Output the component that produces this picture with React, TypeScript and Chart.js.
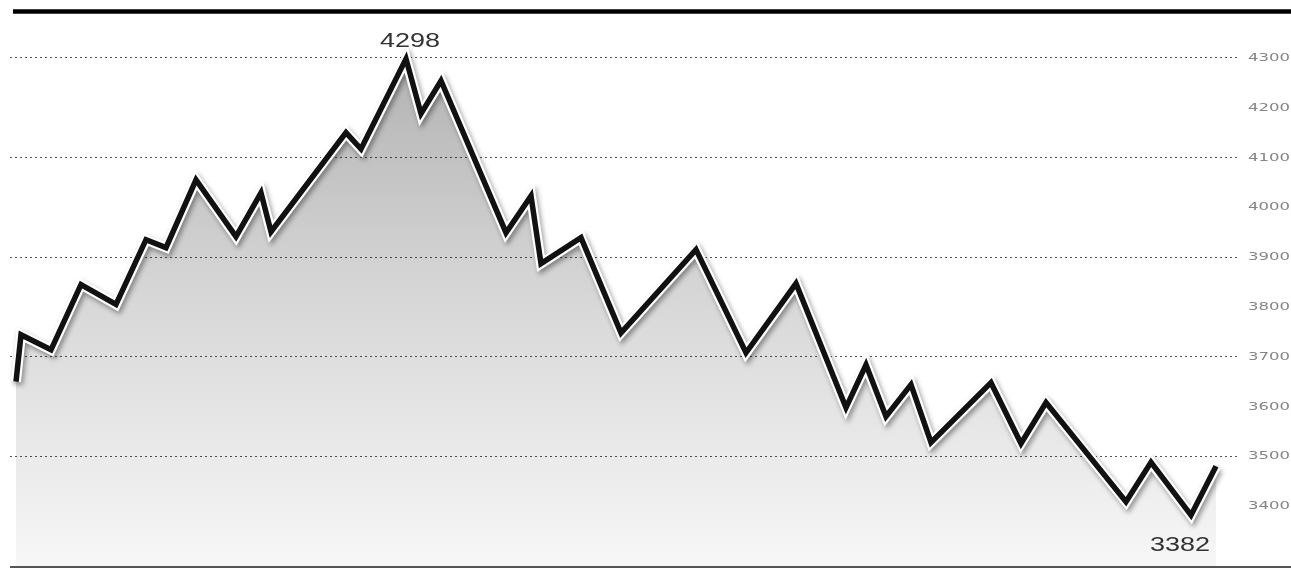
import React, { useEffect, useRef } from 'react';
import { Chart, registerables } from 'chart.js';

Chart.register(...registerables);

// trading-day index of each turning point
const days = [0, 1, 7, 13, 20, 26, 30, 36, 44, 49, 51, 66, 69, 78, 81, 85, 98, 103, 105, 113, 121, 136, 146, 156, 166, 170, 174, 179, 183, 195, 201, 206, 222, 227, 235, 240];
// index values
const values = [3650, 3744, 3714, 3845, 3805, 3935, 3919, 4055, 3941, 4029, 3951, 4150, 4117, 4298, 4188, 4254, 3949, 4023, 3887, 3939, 3748, 3915, 3708, 3847, 3598, 3684, 3580, 3644, 3528, 3648, 3526, 3608, 3409, 3488, 3382, 3480];
const yTicks = [4300, 4200, 4100, 4000, 3900, 3800, 3700, 3600, 3500, 3400];
const gridValues = [4300, 4100, 3900, 3700, 3500];

export default function App() {
  const ref = useRef<HTMLCanvasElement>(null);

  useEffect(() => {
    document.body.style.margin = '0';
    const canvas = ref.current;
    if (!canvas) return;
    const points = days.map((d, i) => ({ x: d, y: values[i] }));

    const drawStretched = (ctx: CanvasRenderingContext2D, text: string, x: number, y: number, sx: number) => {
      ctx.save();
      ctx.translate(x, y);
      ctx.scale(sx, 1);
      ctx.fillText(text, 0, 0);
      ctx.restore();
    };

    const decor = {
      id: 'decor',
      beforeDraw(chart: any) {
        const c = chart.ctx;
        c.save();
        c.fillStyle = '#ffffff';
        c.fillRect(0, 0, chart.width, chart.height);
        c.restore();
      },
      beforeDatasetDraw(chart: any, args: any) {
        if (args.index === 1) {
          const c = chart.ctx;
          c.save();
          c.shadowColor = 'rgba(0,0,0,0.38)';
          c.shadowBlur = 5;
          c.shadowOffsetX = 2;
          c.shadowOffsetY = 3;
        }
      },
      afterDatasetDraw(chart: any, args: any) {
        if (args.index === 1) chart.ctx.restore();
      },
      afterDraw(chart: any) {
        const c = chart.ctx;
        const xs = chart.scales.x;
        const ys = chart.scales.y;
        c.save();
        // top rule
        c.strokeStyle = '#000';
        c.lineWidth = 4.5;
        c.beginPath();
        c.moveTo(13, 11.5);
        c.lineTo(chart.width, 11.5);
        c.stroke();
        // bottom rule
        c.strokeStyle = '#555';
        c.lineWidth = 2;
        c.beginPath();
        c.moveTo(10, 567);
        c.lineTo(chart.width, 567);
        c.stroke();
        // y tick labels (wide face)
        c.fillStyle = '#858585';
        c.font = '10px "DejaVu Sans", sans-serif';
        c.textAlign = 'left';
        c.textBaseline = 'middle';
        ys.ticks.forEach((t: any) => {
          drawStretched(c, String(t.value), ys.left + 11, ys.getPixelForValue(t.value) + 0.5, 1.65);
        });
        // max / min labels
        let iMax = 0, iMin = 0;
        values.forEach((v, i) => {
          if (v > values[iMax]) iMax = i;
          if (v < values[iMin]) iMin = i;
        });
        c.fillStyle = '#333';
        c.font = '20px "Liberation Sans", Arial, sans-serif';
        c.textAlign = 'center';
        c.textBaseline = 'alphabetic';
        drawStretched(c, String(values[iMax]), xs.getPixelForValue(days[iMax]) + 4, ys.getPixelForValue(values[iMax]) - 12, 1.35);
        drawStretched(c, String(values[iMin]), xs.getPixelForValue(days[iMin]) - 11, ys.getPixelForValue(values[iMin]) + 36, 1.35);
        c.restore();
      },
    };

    const gradient = (ctx: any) => {
      const chart = ctx.chart;
      const area = chart.chartArea;
      if (!area) return 'rgba(0,0,0,0.15)';
      const g = chart.ctx.createLinearGradient(0, area.top, 0, area.bottom);
      g.addColorStop(0, 'rgba(0,0,0,0.33)');
      g.addColorStop(0.5, 'rgba(0,0,0,0.16)');
      g.addColorStop(1, 'rgba(0,0,0,0.03)');
      return g;
    };

    const chart = new Chart(canvas, {
      type: 'line',
      data: {
        datasets: [
          {
            data: points,
            borderWidth: 0,
            pointRadius: 0,
            fill: 'start',
            backgroundColor: gradient,
            tension: 0,
            order: 3,
          } as any,
          {
            data: points,
            borderColor: '#ffffff',
            borderWidth: 10,
            borderJoinStyle: 'miter',
            pointRadius: 0,
            fill: false,
            tension: 0,
            order: 2,
          },
          {
            data: points,
            borderColor: '#111111',
            borderWidth: 5.5,
            borderJoinStyle: 'miter',
            pointRadius: 0,
            fill: false,
            tension: 0,
            order: 1,
          },
        ],
      },
      options: {
        responsive: false,
        animation: false,
        layout: { padding: { left: 10, right: 0, top: 13, bottom: 4 } },
        plugins: { legend: { display: false }, tooltip: { enabled: false } },
        scales: {
          x: {
            type: 'linear',
            display: false,
            min: -1.2,
            max: 244.2,
          },
          y: {
            type: 'linear',
            position: 'right',
            min: 3280,
            max: 4390,
            afterBuildTicks: (scale: any) => {
              scale.ticks = yTicks.map((v) => ({ value: v }));
            },
            afterFit: (scale: any) => {
              scale.width = 54;
              scale.paddingTop = 0;
              scale.paddingBottom = 0;
            },
            grid: {
              drawTicks: false,
              lineWidth: 1,
              color: (c: any) => (c.tick && gridValues.includes(c.tick.value) ? '#555555' : 'rgba(0,0,0,0)'),
            },
            border: { display: false, dash: [2, 3] },
            ticks: {
              display: false,
            },
          },
        },
      },
      plugins: [decor],
    });

    return () => chart.destroy();
  }, []);

  return (
    <div style={{ width: 1291, height: 570 }}>
      <canvas ref={ref} width={1291} height={570} />
    </div>
  );
}
